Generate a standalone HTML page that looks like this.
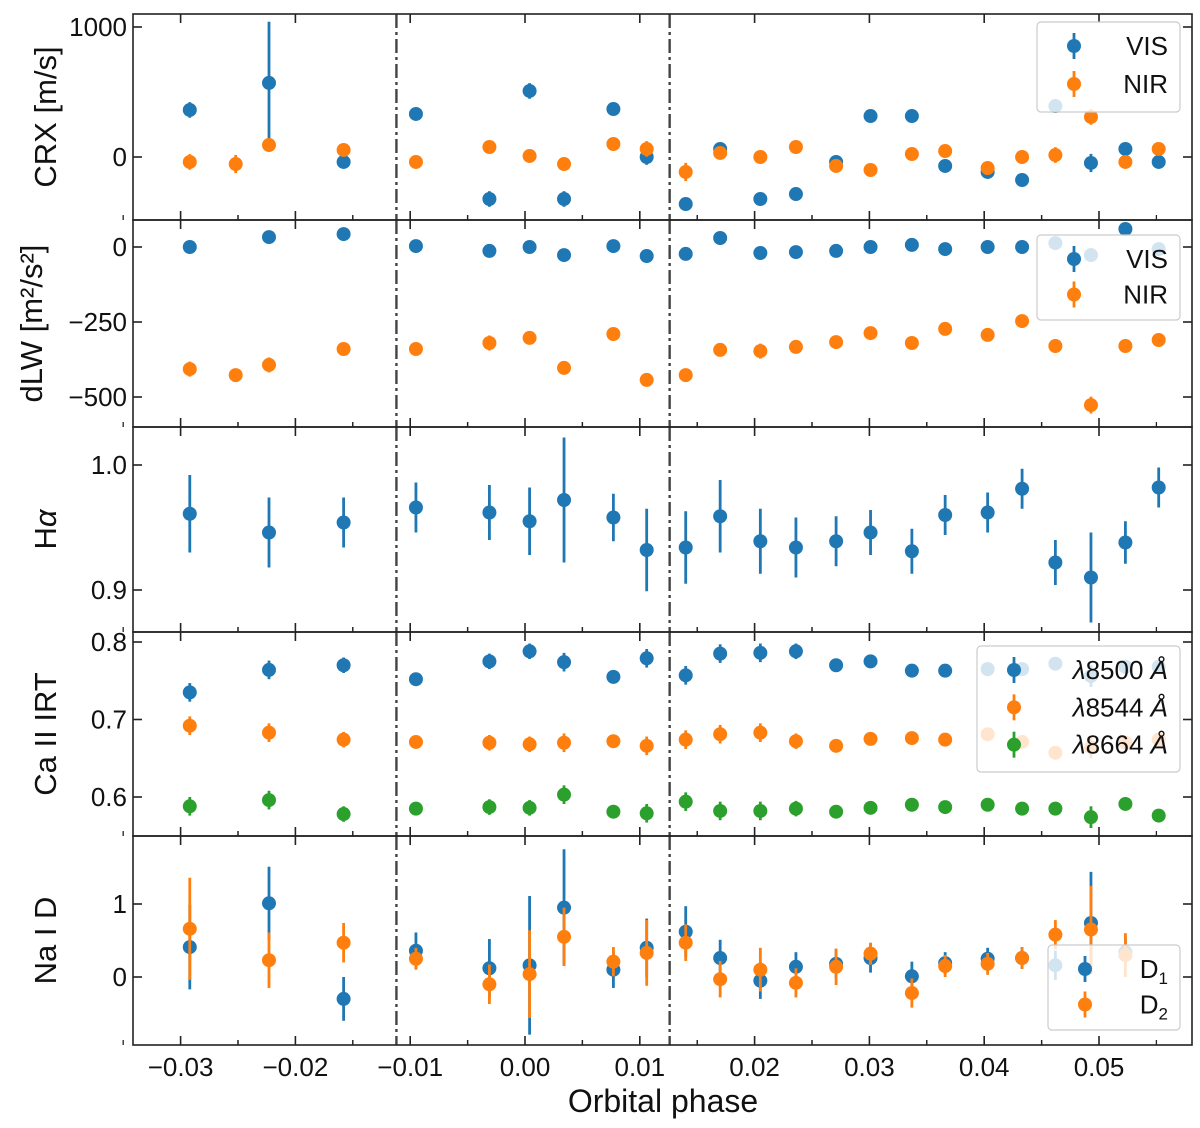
<!DOCTYPE html>
<html><head><meta charset="utf-8">
<style>
body{margin:0;background:#fff;}
svg{display:block;font-family:"Liberation Sans","DejaVu Sans",sans-serif;}
</style></head>
<body>
<svg id="chart" width="1200" height="1128" viewBox="0 0 1200 1128"></svg>
<script>
const phases=[-0.0292,-0.0252,-0.0223,-0.0158,-0.0095,-0.0031,0.0004,0.0034,0.0077,0.0106,0.0140,0.0170,0.0205,0.0236,0.0271,0.0301,0.0337,0.0366,0.0403,0.0433,0.0462,0.0493,0.0523,0.0552];
const crxVis=[362,null,570,-38,331,-323,508,-323,369,0,-362,62,-323,-285,-38,315,315,-69,-115,-177,392,-46,62,-38];
const crxVisErr=[60,null,470,40,40,60,60,60,40,60,50,40,40,40,40,40,40,40,50,40,40,70,40,40];
const crxNir=[-38,-54,92,54,-38,77,8,-54,100,62,-115,31,0,77,-69,-100,23,46,-85,0,15,308,-38,62];
const crxNirErr=[60,70,40,40,50,40,40,40,40,60,70,40,40,40,40,40,40,40,40,40,60,60,40,40];
const dlwVis=[0,null,33,43,3,-13,0,-27,3,-30,-23,30,-20,-17,-13,0,7,-7,0,0,13,-27,60,-7];
const dlwNir=[-407,-427,-393,-340,-340,-320,-303,-403,-290,-443,-427,-343,-347,-333,-317,-287,-320,-273,-293,-247,-330,-527,-330,-310];
const dlwNirErr=[25,20,25,20,20,25,20,20,20,20,20,20,25,20,20,15,18,18,18,22,15,28,18,18];
const ha=[0.961,null,0.946,0.954,0.966,0.962,0.955,0.972,0.958,0.932,0.934,0.959,0.939,0.934,0.939,0.946,0.931,0.960,0.962,0.981,0.922,0.910,0.938,0.982];
const haErr=[0.031,null,0.028,0.02,0.02,0.022,0.027,0.05,0.019,0.033,0.029,0.029,0.026,0.024,0.02,0.018,0.018,0.016,0.016,0.016,0.018,0.036,0.017,0.016];
const ca8500=[0.735,null,0.764,0.770,0.752,0.775,0.788,0.774,0.755,0.779,0.757,0.785,0.786,0.788,0.770,0.775,0.763,0.763,0.765,0.765,0.772,0.756,0.768,0.768];
const ca8544=[0.692,null,0.683,0.674,0.671,0.670,0.668,0.670,0.672,0.666,0.674,0.681,0.683,0.672,0.666,0.675,0.676,0.674,0.681,0.671,0.657,0.664,0.670,0.674];
const ca8664=[0.588,null,0.596,0.578,0.585,0.587,0.586,0.603,0.581,0.579,0.594,0.582,0.582,0.585,0.581,0.586,0.590,0.587,0.590,0.585,0.585,0.574,0.591,0.576];
const caErr=[0.012,null,0.012,0.01,0.008,0.01,0.01,0.012,0.008,0.012,0.012,0.012,0.012,0.01,0.008,0.008,0.008,0.008,0.008,0.008,0.008,0.014,0.008,0.008];
const d1=[0.41,null,1.01,-0.30,0.36,0.12,0.16,0.95,0.10,0.40,0.62,0.26,-0.05,0.14,0.18,0.26,0.01,0.19,0.25,0.26,0.16,0.74,0.34,null];
const d1Err=[0.58,null,0.5,0.3,0.25,0.4,0.95,0.8,0.25,0.4,0.35,0.25,0.25,0.2,0.2,0.2,0.2,0.15,0.15,0.15,0.2,0.7,0.2,null];
const d2=[0.66,null,0.23,0.47,0.25,-0.10,0.04,0.55,0.21,0.33,0.47,-0.03,0.10,-0.08,0.14,0.32,-0.22,0.15,0.18,0.26,0.58,0.65,0.30,null];
const d2Err=[0.7,null,0.38,0.27,0.15,0.27,0.6,0.4,0.2,0.45,0.25,0.25,0.3,0.2,0.25,0.15,0.2,0.15,0.15,0.15,0.2,0.6,0.3,null];
const xTicks=[-0.03,-0.02,-0.01,0.00,0.01,0.02,0.03,0.04,0.05];
const xTickLabels=["\u22120.03","\u22120.02","\u22120.01","0.00","0.01","0.02","0.03","0.04","0.05"];
const transitLines=[-0.0112,0.0126];

const svg=document.getElementById('chart');
const NS='http://www.w3.org/2000/svg';
const L=133,R=1192;
const x=p=>525+p*11480;
function el(t,a,parent){const e=document.createElementNS(NS,t);for(const k in a)e.setAttribute(k,a[k]);(parent||svg).appendChild(e);return e;}
const C={b:'#1f77b4',o:'#ff7f0e',g:'#2ca02c'};

const panels=[
 {name:'crx',top:14,bot:220,y0:157,k:0.13,ref:0,ticks:[0,1000],labels:['0','1000'],ylab:'CRX [m/s]',
  series:[[crxVis,crxVisErr,C.b,'vis'],[crxNir,crxNirErr,C.o,'nir']]},
 {name:'dlw',top:220,bot:427,y0:247,k:0.3,ref:0,ticks:[0,-250,-500],labels:['0','\u2212250','\u2212500'],ylab:'dLW [m\u00b2/s\u00b2]',
  series:[[dlwVis,dlwVis.map(v=>v==null?null:8),C.b,'vis'],[dlwNir,dlwNirErr,C.o,'nir']]},
 {name:'halpha',top:427,bot:632,y0:465,k:1250,ref:1.0,ticks:[1.0,0.9],labels:['1.0','0.9'],ylab:'H<tspan font-style="italic">α</tspan>',
  series:[[ha,haErr,C.b,'halpha']]},
 {name:'caii',top:632,bot:836,y0:642,k:775,ref:0.8,ticks:[0.8,0.7,0.6],labels:['0.8','0.7','0.6'],ylab:'Ca II IRT',
  series:[[ca8500,caErr,C.b,'8500'],[ca8544,caErr,C.o,'8544'],[ca8664,caErr,C.g,'8664']]},
 {name:'nai',top:836,bot:1045,y0:977,k:73,ref:0,ticks:[1,0],labels:['1','0'],ylab:'Na I D',
  series:[[d1,d1Err,C.b,'d1'],[d2,d2Err,C.o,'d2']]}
];

panels.forEach(P=>{
 const g=el('g',{});
 
 
 const y=v=>P.y0-(v-P.ref)*P.k;
 transitLines.forEach(t=>{const ln=el('line',{x1:x(t),x2:x(t),y1:P.top,y2:P.bot,stroke:'#444','stroke-width':2.4,'stroke-dasharray':'14,4,3,4'},g);
  });
 P.series.forEach(([vals,errs,col,nm])=>{
  vals.forEach((v,i)=>{
   if(v==null)return;
   const cx=x(phases[i]),cy=y(v),e=errs[i]*P.k;
   const m=el('g',{},g);
   
   
   el('line',{x1:cx,x2:cx,y1:cy-e,y2:cy+e,stroke:col,'stroke-width':2.8},m);
   el('circle',{cx:cx,cy:cy,r:7,fill:col},m);
  });
 });
 el('rect',{x:L,y:P.top,width:R-L,height:P.bot-P.top,fill:'none',stroke:'#222','stroke-width':1.6},g);
 P.ticks.forEach((t,i)=>{const ty=y(t);
  el('line',{x1:L,x2:L+9,y1:ty,y2:ty,stroke:'#222','stroke-width':1.6},g);
  el('line',{x1:R-9,x2:R,y1:ty,y2:ty,stroke:'#222','stroke-width':1.6},g);
  const tl=el('text',{x:L-6,y:ty+9,'text-anchor':'end','font-size':26,fill:'#111'},g);tl.textContent=P.labels[i];
  });
 xTicks.forEach(t=>{const tx=x(t);
  el('line',{x1:tx,x2:tx,y1:P.bot-9,y2:P.bot,stroke:'#222','stroke-width':1.6},g);
  el('line',{x1:tx,x2:tx,y1:P.top,y2:P.top+9,stroke:'#222','stroke-width':1.6},g);
  el('line',{x1:tx+57.4,x2:tx+57.4,y1:P.bot-5,y2:P.bot,stroke:'#222','stroke-width':1.3},g);
  el('line',{x1:tx-57.4,x2:tx-57.4,y1:P.bot-5,y2:P.bot,stroke:'#222','stroke-width':1.3},g);});
 const my=(P.top+P.bot)/2;
 const yl=el('text',{x:0,y:0,transform:`translate(${P.name==='dlw'?42:56},${my}) rotate(-90)`,'text-anchor':'middle','font-size':31,fill:'#111'},g);
 yl.innerHTML=P.ylab;
 
});

xTicks.forEach((t,i)=>{const tl=el('text',{x:x(t),y:1076,'text-anchor':'middle','font-size':26,fill:'#111'});tl.textContent=xTickLabels[i];
 });
const xl=el('text',{x:663,y:1112,'text-anchor':'middle','font-size':32,fill:'#111'});xl.textContent='Orbital phase';


function legend(name,bx,by,w,h,items){
 const g=el('g',{});
 
 
 el('rect',{x:bx,y:by,width:w,height:h,rx:4,fill:'#fff','fill-opacity':0.8,stroke:'#ccc','stroke-width':1.2},g);
 items.forEach((it,i)=>{const cy=by+24+i*(h-14)/items.length;const mx=bx+37;
  const e=el('g',{},g);
  
  
  el('line',{x1:mx,x2:mx,y1:cy-13,y2:cy+13,stroke:it[0],'stroke-width':2.8},e);
  el('circle',{cx:mx,cy:cy,r:7,fill:it[0]},e);
  const t=el('text',{x:bx+w-12,y:cy+9,'text-anchor':'end','font-size':26,fill:'#111'},e);t.innerHTML=it[1];});
}
legend('crx-legend',1037,22,143,90,[[C.b,'VIS'],[C.o,'NIR']]);
legend('dlw-legend',1037,235,143,85,[[C.b,'VIS'],[C.o,'NIR']]);
legend('caii-legend',977,646,203,126,[[C.b,'<tspan font-style="italic">λ</tspan>8500 <tspan font-style="italic">Å</tspan>'],[C.o,'<tspan font-style="italic">λ</tspan>8544 <tspan font-style="italic">Å</tspan>'],[C.g,'<tspan font-style="italic">λ</tspan>8664 <tspan font-style="italic">Å</tspan>']]);
legend('nai-legend',1048,945,132,85,[[C.b,'D<tspan font-size="17" dy="6">1</tspan>'],[C.o,'D<tspan font-size="17" dy="6">2</tspan>']]);
</script>
</body></html>
